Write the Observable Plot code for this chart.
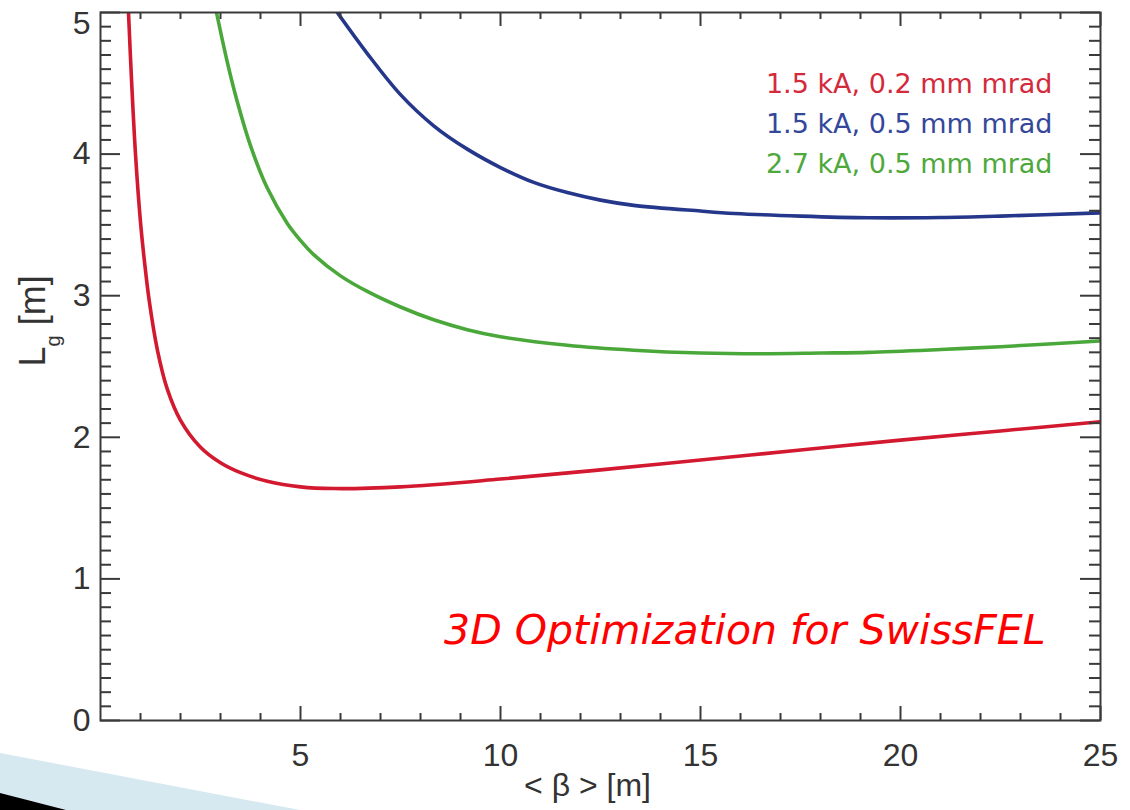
<!DOCTYPE html>
<html><head><meta charset="utf-8">
<script src="https://cdn.jsdelivr.net/npm/d3@7"></script>
<script src="https://cdn.jsdelivr.net/npm/@observablehq/plot@0.6"></script>
<style>
html,body{margin:0;padding:0;background:#fff;}
#wrap{position:relative;width:1130px;height:810px;overflow:hidden;background:#fff;}
#deco{position:absolute;left:0;top:0;pointer-events:none;}
</style></head><body>
<div id="wrap"><div id="chart"></div>
<svg id="deco" width="1130" height="810"><polygon points="0,753 300,810 0,810" fill="#d6e8f0"/><polygon points="0,793 66,810 0,810" fill="#000"/></svg>
</div>
<script>
// ---- data ----
const seriesNames = ["1.5 kA, 0.2 mm mrad", "1.5 kA, 0.5 mm mrad", "2.7 kA, 0.5 mm mrad"];
const seriesColors = ["#d2192f", "#25378a", "#4aa83a"];
const legendColors = ["#d42a3c", "#34479a", "#4ea83c"];

const redBeta = [0.70, 0.78, 0.875, 1.0, 1.1, 1.22, 1.42, 1.67, 2.0, 2.5, 3.0, 3.5, 4.17, 5.0, 5.83, 7.5, 10, 12.5, 15, 17.5, 20, 22.5, 25];
const redLg   = [5.0, 4.5, 4.0, 3.52, 3.24, 2.96, 2.62, 2.34, 2.12, 1.93, 1.82, 1.75, 1.69, 1.65, 1.638, 1.65, 1.705, 1.77, 1.84, 1.91, 1.98, 2.045, 2.11];

const blueBeta = [5.92, 6.67, 7.5, 8.33, 9.17, 10, 10.83, 11.67, 12.5, 13.33, 15, 15.85, 17.5, 19.2, 21, 22.5, 25];
const blueLg   = [5.0, 4.71, 4.42, 4.20, 4.035, 3.905, 3.80, 3.728, 3.675, 3.638, 3.598, 3.581, 3.562, 3.55, 3.552, 3.562, 3.585];

const greenBeta = [2.9, 3.17, 3.42, 3.75, 4.17, 4.67, 5.0, 5.33, 6.0, 6.67, 7.5, 8.33, 9.17, 10, 11.67, 13.33, 15, 16.5, 18, 19.2, 21, 22.5, 25];
const greenLg   = [5.0, 4.65, 4.37, 4.06, 3.76, 3.51, 3.39, 3.29, 3.14, 3.03, 2.92, 2.83, 2.76, 2.71, 2.65, 2.615, 2.595, 2.59, 2.595, 2.60, 2.62, 2.64, 2.68];

const xTickLabels = [5, 10, 15, 20, 25];
const yTickLabels = [0, 1, 2, 3, 4, 5];
const xMinorTicks = [1,2,3,4,6,7,8,9,11,12,13,14,16,17,18,19,21,22,23,24];
const yMinorTicks = d3.range(0, 50).map(i => i / 10).filter(v => !Number.isInteger(v));

const xTitle = "< \u03b2 > [m]";
const yTitle = "Lg [m]";
const annotation = "3D Optimization for SwissFEL";

// ---- build table ----
const rows = [];
[[redBeta, redLg], [blueBeta, blueLg], [greenBeta, greenLg]].forEach(([xs, ys], i) => {
  xs.forEach((b, j) => rows.push({series: seriesNames[i], beta: b, lg: ys[j]}));
});

const W = 1130, H = 810;
const mL = 100, mR = 30, mT = 12, mB = 90;
const fw = W - mL - mR, fh = H - mT - mB;
const ink = "#3a3a3a";
const yMax = d3.max(yTickLabels);

const marks = [
  Plot.line(rows, {x: "beta", y: "lg", z: "series", stroke: "series", curve: "catmull-rom", strokeWidth: 3.6, clip: true}),
  Plot.frame({stroke: ink, strokeWidth: 2}),
  // bottom & top ticks
  Plot.tickX(xTickLabels, {x: d => d, insetTop: fh - 14, stroke: ink, strokeWidth: 2}),
  Plot.tickX(xTickLabels, {x: d => d, insetBottom: fh - 14, stroke: ink, strokeWidth: 2}),
  Plot.tickX(xMinorTicks, {x: d => d, insetTop: fh - 7, stroke: ink, strokeWidth: 2}),
  Plot.tickX(xMinorTicks, {x: d => d, insetBottom: fh - 7, stroke: ink, strokeWidth: 2}),
  // left & right ticks
  Plot.tickY(yTickLabels, {y: d => d, insetRight: fw - 20, stroke: ink, strokeWidth: 2}),
  Plot.tickY(yTickLabels, {y: d => d, insetLeft: fw - 20, stroke: ink, strokeWidth: 2}),
  Plot.tickY(yMinorTicks, {y: d => d, insetRight: fw - 11, stroke: ink, strokeWidth: 2}),
  Plot.tickY(yMinorTicks, {y: d => d, insetLeft: fw - 11, stroke: ink, strokeWidth: 2}),
  Plot.axisX(xTickLabels, {tickSize: 0, tickPadding: 23, label: null, fill: "#333", tickFormat: d => String(d)}),
  Plot.axisY(yTickLabels.filter(v => v < yMax), {tickSize: 0, tickPadding: 10, label: null, fill: "#333", tickFormat: d => String(d)}),
  Plot.text(yTickLabels.filter(v => v === yMax), {y: d => d, text: d => String(d), frameAnchor: "left", textAnchor: "end", dx: -10, dy: 11, fill: "#333"}),
  Plot.text([xTitle], {frameAnchor: "bottom", dx: -13, dy: 75, fontSize: 32, fill: "#333"}),
  Plot.text([yTitle], {frameAnchor: "left", dx: -67, rotate: -90, fontSize: 36, fill: "#333"}),
  ...seriesNames.map((name, i) => Plot.text([name], {
    frameAnchor: "top-right", textAnchor: "end", dx: -48, dy: 61 + i * 40,
    fontFamily: "DejaVu Sans", fontSize: 27, fill: legendColors[i]
  })),
  Plot.text([annotation], {
    frameAnchor: "bottom-right", textAnchor: "end", dx: -55, dy: -77,
    fontFamily: "DejaVu Sans", fontStyle: "italic", fontSize: 41, fill: "#ff0000"
  })
];

const chart = Plot.plot({
  width: W, height: H,
  marginLeft: mL, marginRight: mR, marginTop: mT, marginBottom: mB,
  x: {domain: [0, 25], label: null},
  y: {domain: [0, 5], label: null},
  color: {domain: seriesNames, range: seriesColors},
  style: {fontFamily: "'Liberation Sans', Arial, Helvetica, sans-serif", fontSize: "32px", background: "transparent", color: "#333"},
  marks
});

// subscript g in the y title
d3.select(chart).selectAll("text").filter(function() { return this.textContent === yTitle; }).each(function() {
  const t = d3.select(this);
  t.text(null);
  t.append("tspan").text("L");
  t.append("tspan").attr("dy", 15).attr("font-size", 20).text("g");
  t.append("tspan").attr("dy", -15).text(" [m]");
});

document.getElementById("chart").appendChild(chart);
</script>
</body></html>
